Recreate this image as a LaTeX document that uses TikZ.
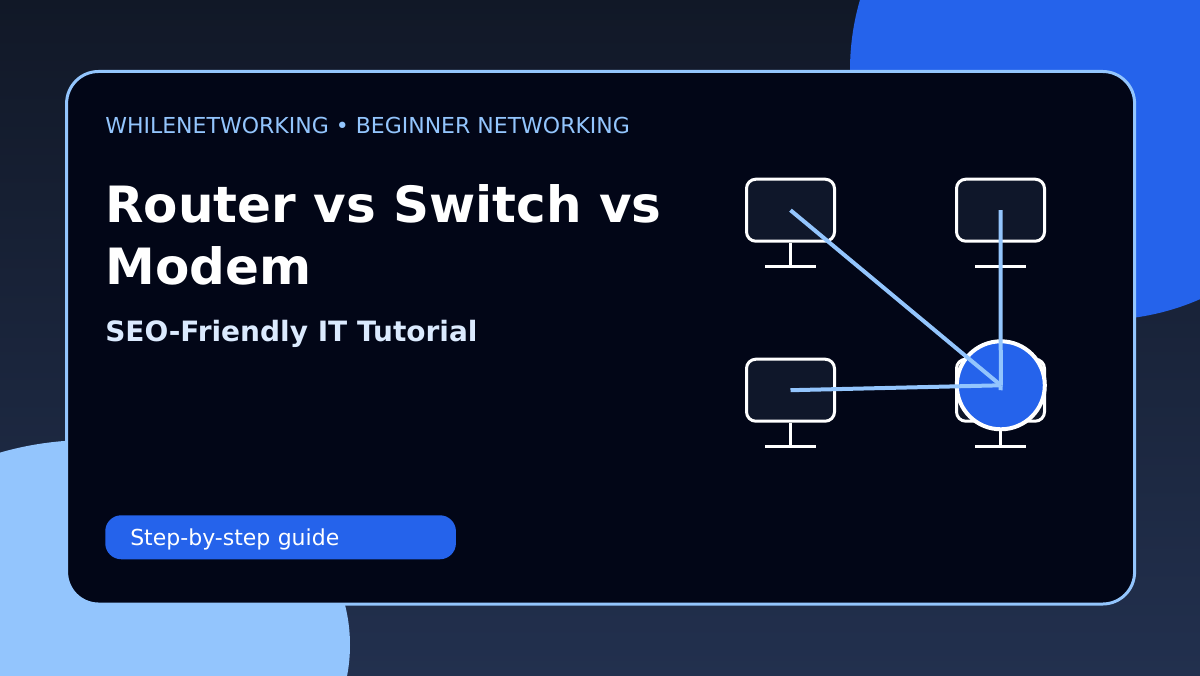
\documentclass[tikz,border=0pt]{standalone}
\usepackage{fontspec}
\setmainfont{DejaVu Sans}
\usepackage{xcolor}
\usetikzlibrary{positioning}
\definecolor{bgdark}{HTML}{0F172A}
\definecolor{bgtop}{HTML}{111827}
\definecolor{bgbottom}{HTML}{22304E}
\definecolor{cardfill}{HTML}{020617}
\definecolor{skyline}{HTML}{93C5FD}
\definecolor{royal}{HTML}{2563EB}
\definecolor{subtext}{HTML}{DBEAFE}

\begin{document}
\begin{tikzpicture}[
    x=0.75pt, y=-0.75pt,
    card/.style={rectangle, draw=skyline, fill=cardfill, line width=2.25pt, rounded corners=24pt, inner sep=0, minimum width=801pt, minimum height=399.4pt},
    monitor/.style={rectangle, draw=white, fill=bgdark, line width=2.25pt, rounded corners=7pt, inner sep=0, minimum width=66pt, minimum height=46.5pt},
    stand/.style={draw=white, line width=2.25pt},
    link/.style={draw=skyline, line width=3pt},
    hub/.style={circle, draw=white, fill=royal, line width=3pt, inner sep=0, minimum size=66pt},
    kicker/.style={anchor=base west, inner sep=0, text=skyline, font=\fontsize{16.5pt}{20pt}\selectfont},
    headline/.style={anchor=base west, inner sep=0, text=white, font=\fontsize{37.5pt}{48pt}\selectfont\bfseries},
    subline/.style={anchor=base west, inner sep=0, text=subtext, font=\fontsize{21pt}{25pt}\selectfont\bfseries},
    pill/.style={rectangle, fill=royal, rounded corners=12pt, inner xsep=18.75pt, inner ysep=0, minimum height=33pt, text width=225.5pt, text height=15pt, text depth=3pt, align=left, text=white, font=\fontsize{16.5pt}{20pt}\selectfont}]

\useasboundingbox (0,0) rectangle (1200,675);
\shade[top color=bgtop, bottom color=bgbottom] (0,0) rectangle (1200,675);
\fill[royal] (1100,70) circle [radius=187.5pt];
\fill[skyline] (90,645) ellipse [x radius=195pt, y radius=153.75pt];

\node[card] (panel) at (600.6,337.75) {};

\node[kicker] (tag) at (105,133) {WHILENETWORKING • BEGINNER NETWORKING};
\node[headline] (title1) at (105,222.5) {Router vs Switch vs};
\node[headline] (title2) at (105,284.5) {Modem};
\node[subline] (subtitle) at (105,341) {SEO-Friendly IT Tutorial};
\node[pill, anchor=north west] (guide) at (105,515) {Step-by-step guide};

\foreach \name/\px/\py in {mon1/790.5/210.2, mon2/1000.5/210.2, mon3/790.5/390.2, mon4/1000.5/390.2}{
    \node[monitor] (\name) at (\px,\py) {};
    \coordinate (\name-foot) at (\px,\py+56.2);
    \coordinate (\name-footl) at (\px-25.5,\py+56.2);
    \coordinate (\name-footr) at (\px+25.5,\py+56.2);
    \draw[stand] (\name.south) -- (\name-foot);
    \draw[stand] (\name-footl) -- (\name-footr);
}

\node[hub] (router) at (1000.8,385.3) {};

\draw[link] (mon1.center) -- (router.center);
\draw[link] (mon2.center) -- (router.center);
\draw[link] (mon3.center) -- (router.center);
\draw[link] (mon4.center) -- (router.center);

\end{tikzpicture}
\end{document}
